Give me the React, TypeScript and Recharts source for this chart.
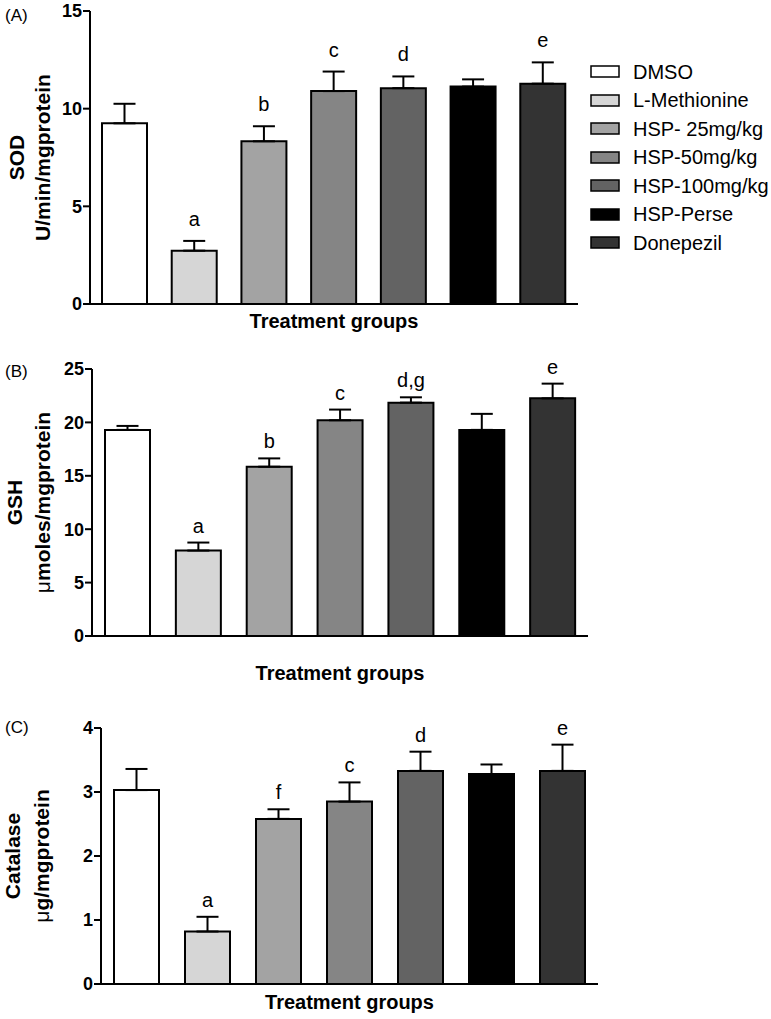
import React from 'react';
import { BarChart, Bar, XAxis, YAxis, ErrorBar, Cell, LabelList, Legend } from 'recharts';

const groups = ['DMSO', 'L-Methionine', 'HSP- 25mg/kg', 'HSP-50mg/kg', 'HSP-100mg/kg', 'HSP-Perse', 'Donepezil'];
const fills = ['#ffffff', '#d6d6d6', '#a3a3a3', '#858585', '#636363', '#000000', '#333333'];

// (A) SOD
const sodMean = [9.25, 2.73, 8.33, 10.9, 11.05, 11.13, 11.28];
const sodSem = [1.0, 0.5, 0.77, 1.0, 0.6, 0.37, 1.09];
const sodSig = ['', 'a', 'b', 'c', 'd', '', 'e'];
const sodTicks = [0, 5, 10, 15];

// (B) GSH
const gshMean = [19.3, 8.0, 15.85, 20.2, 21.85, 19.3, 22.25];
const gshSem = [0.37, 0.75, 0.78, 1.0, 0.5, 1.5, 1.38];
const gshSig = ['', 'a', 'b', 'c', 'd,g', '', 'e'];
const gshTicks = [0, 5, 10, 15, 20, 25];

// (C) Catalase
const catMean = [3.03, 0.82, 2.58, 2.85, 3.33, 3.28, 3.33];
const catSem = [0.33, 0.23, 0.15, 0.3, 0.3, 0.15, 0.41];
const catSig = ['', 'a', 'f', 'c', 'd', '', 'e'];
const catTicks = [0, 1, 2, 3, 4];

const FONT = '"Liberation Sans", Arial, Helvetica, sans-serif';

type Row = { group: string; mean: number; sem: number; err: number[]; sig: string };

const toRows = (mean: number[], sem: number[], sig: string[]): Row[] =>
  groups.map((g, i) => ({ group: g, mean: mean[i], sem: sem[i], err: [0, sem[i]], sig: sig[i] }));

const legendContent = () => (
  <div style={{ fontFamily: FONT, fontSize: 20, color: '#000' }}>
    {groups.map((g, i) => (
      <div key={g} style={{ height: 28.5, display: 'flex', alignItems: 'center', whiteSpace: 'pre' }}>
        <svg width={32} height={14} style={{ marginRight: 11 }}>
          <rect x={1} y={1} width={28} height={11} fill={fills[i]} stroke="#000" strokeWidth={1.5} />
        </svg>
        <span>{g}</span>
      </div>
    ))}
  </div>
);

type PanelProps = {
  tag: string;
  tagY: number;
  rows: Row[];
  ticks: number[];
  top: number;
  height: number;
  margin: { top: number; right: number; bottom: number; left: number };
  xAxisHeight: number;
  title: string;
  unit: React.ReactNode;
  titleDx: [number, number];
  xTitleDy: number;
  letterGap: number;
  legend?: boolean;
};

const Panel = (p: PanelProps) => {
  const renderSig = (props: any) => {
    const { x, y, width, height, value } = props;
    if (!value) return null;
    const row = p.rows.find((r) => r.sig === value);
    if (!row) return null;
    const k = Number(height) / row.mean;
    const errTop = Number(y) - row.sem * k;
    return (
      <text x={Number(x) + Number(width) / 2} y={errTop - p.letterGap} textAnchor="middle"
        fontFamily={FONT} fontSize={20} fill="#000">
        {value}
      </text>
    );
  };

  const yTitle = (props: any) => {
    const vb = props.viewBox;
    const left = vb.x + vb.width;
    const cy = vb.y + vb.height / 2;
    return (
      <g fontFamily={FONT} fill="#000">
        <text x={5} y={p.tagY} fontSize={17}>{p.tag}</text>
        <text transform={`translate(${left - p.titleDx[0]},${cy}) rotate(-90)`} textAnchor="middle"
          fontSize={21} fontWeight="bold">{p.title}</text>
        <text transform={`translate(${left - p.titleDx[1]},${cy}) rotate(-90)`} textAnchor="middle"
          fontSize={21} fontWeight="bold">{p.unit}</text>
      </g>
    );
  };

  const xTitle = (props: any) => {
    const vb = props.viewBox;
    return (
      <text x={vb.x + vb.width / 2} y={vb.y + p.xTitleDy} textAnchor="middle" fontFamily={FONT}
        fontSize={20} fontWeight="bold" fill="#000">
        Treatment groups
      </text>
    );
  };

  return (
    <div style={{ position: 'absolute', left: 0, top: p.top }}>
      <BarChart width={771} height={p.height} data={p.rows} margin={p.margin}>
        <XAxis dataKey="group" type="category" tick={false} tickLine={false} height={p.xAxisHeight}
          axisLine={{ stroke: '#000', strokeWidth: 2 }} label={xTitle} />
        <YAxis type="number" domain={[p.ticks[0], p.ticks[p.ticks.length - 1]]} ticks={p.ticks}
          interval={0} width={60} tickSize={7} tickMargin={1}
          axisLine={{ stroke: '#000', strokeWidth: 2 }} tickLine={{ stroke: '#000', strokeWidth: 2 }}
          tick={{ fill: '#000', fontSize: 18, fontWeight: 'bold', fontFamily: FONT }} label={yTitle} />
        {p.legend && (
          <Legend layout="vertical" align="center" verticalAlign="middle" content={legendContent}
            wrapperStyle={{ left: 590, top: 57.75, width: 181 }} />
        )}
        <Bar dataKey="mean" barSize={45} stroke="#000" strokeWidth={2} isAnimationActive={false}>
          {p.rows.map((r, i) => (
            <Cell key={r.group} fill={fills[i]} />
          ))}
          <ErrorBar dataKey="err" direction="y" width={11} stroke="#000" strokeWidth={2} />
          <LabelList dataKey="sig" content={renderSig} />
        </Bar>
      </BarChart>
    </div>
  );
};

const App = () => (
  <div style={{ position: 'absolute', left: 0, top: 0, width: 771, height: 1019, background: '#fff', fontFamily: FONT }}>
    <Panel tag="(A)" tagY={20.5} rows={toRows(sodMean, sodSem, sodSig)} ticks={sodTicks} top={0} height={340}
      margin={{ top: 11, right: 193, bottom: 6, left: 30 }} xAxisHeight={30}
      title="SOD" unit="U/min/mgprotein" titleDx={[66, 40]} xTitleDy={24} letterGap={15} legend />
    <Panel tag="(B)" tagY={37} rows={toRows(gshMean, gshSem, gshSig)} ticks={gshTicks} top={340} height={345}
      margin={{ top: 29, right: 183, bottom: 4, left: 32 }} xAxisHeight={45}
      title="GSH" unit={<><tspan fontWeight="normal">μ</tspan>moles/mgprotein</>} titleDx={[70, 42]}
      xTitleDy={44} letterGap={10} />
    <Panel tag="(C)" tagY={48} rows={toRows(catMean, catSem, catSig)} ticks={catTicks} top={685} height={334}
      margin={{ top: 43, right: 173, bottom: 5, left: 41 }} xAxisHeight={30}
      title="Catalase" unit={<><tspan fontWeight="normal">μ</tspan>g/mgprotein</>} titleDx={[81, 52]}
      xTitleDy={25} letterGap={10} />
  </div>
);

export default App;
